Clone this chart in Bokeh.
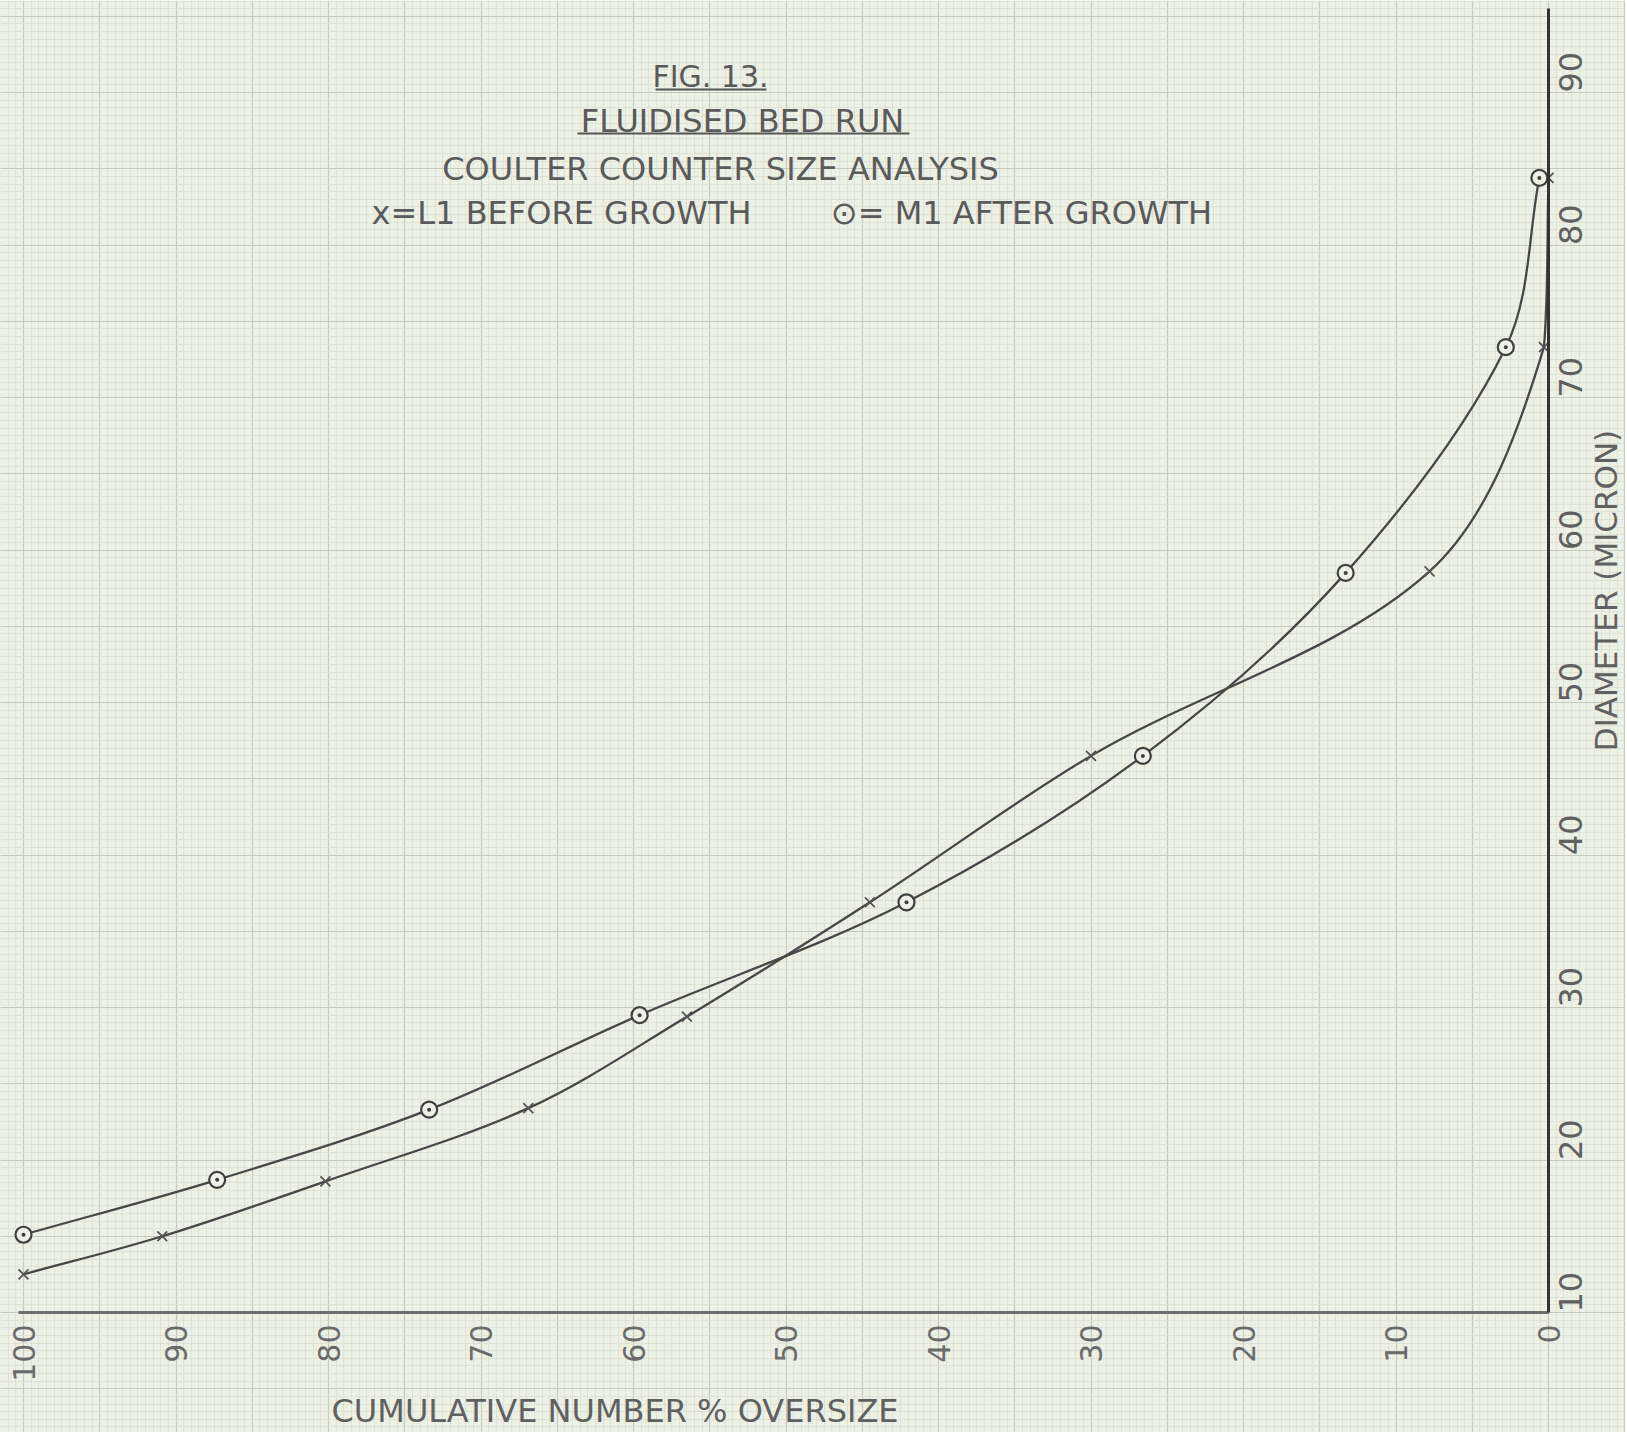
import math
import numpy as np
from bokeh.plotting import figure
from bokeh.models import Range1d, LinearAxis, FixedTicker, Grid, ColumnDataSource
from bokeh.core.properties import value
from bokeh.embed import file_html
from bokeh.resources import INLINE

# ---------------- data ----------------
l1_diameter = [12.5, 15.0, 18.6, 23.4, 29.4, 36.9, 46.5, 58.6, 73.3, 84.4]
l1_oversize = [100.0, 90.9, 80.2, 66.9, 56.5, 44.5, 30.0, 7.8, 0.3, 0.0]
m1_diameter = [15.1, 18.7, 23.3, 29.5, 36.9, 46.5, 58.5, 73.3, 84.4]
m1_oversize = [100.0, 87.3, 73.4, 59.6, 42.1, 26.6, 13.3, 2.8, 0.6]

x_tick_values = [100, 90, 80, 70, 60, 50, 40, 30, 20, 10, 0]
y_tick_values = [10, 20, 30, 40, 50, 60, 70, 80, 90]

title_lines = ["FIG. 13.", "FLUIDISED BED RUN", "COULTER COUNTER SIZE ANALYSIS"]
legend_labels = ["x=L1 BEFORE GROWTH", "\u2299= M1 AFTER GROWTH"]
x_axis_title = "CUMULATIVE NUMBER % OVERSIZE"
y_axis_title = "DIAMETER (MICRON)"

# ---------------- styling ----------------
FONT = "DejaVu Sans"
BG = "#edf0e4"
INK = "#474747"
TEXT = "#5a5a5a"

W, H = 1625, 1432               # the whole sheet is the plotting frame
PX = 15.25                      # pixels per unit on both axes
AX_X, AX_Y = 1548, 1312         # sheet position of x = 0 and y = 10

def dx(px):                     # sheet pixel -> data x
    return (AX_X - px) / PX

def dy(py):                     # sheet pixel -> data y
    return 10 + (AX_Y - py) / PX

p = figure(frame_width=W, frame_height=H,
           x_range=Range1d(dx(0), dx(W)), y_range=Range1d(dy(H), dy(0)),
           x_axis_type=None, y_axis_type=None, title=None,
           output_backend="svg", toolbar_location=None, min_border=0,
           background_fill_color=BG, border_fill_color=BG,
           outline_line_color=None)

# ---- graph paper ----
major_x = [float(v) for v in np.arange(-10, 105, 5)]
minor_x = [float(v) for v in np.arange(-6, 102.5, 0.5)]
major_y = [float(v) for v in np.arange(0, 100, 5)]
minor_y = [float(v) for v in np.arange(0, 100, 0.5)]
for dim, maj, mnr in ((0, major_x, minor_x), (1, major_y, minor_y)):
    g = Grid(dimension=dim, ticker=FixedTicker(ticks=maj, minor_ticks=mnr),
             grid_line_color="#c6cbbd", grid_line_width=1.2,
             minor_grid_line_color="#dadfd2", minor_grid_line_width=0.8)
    p.add_layout(g)

# ---- axes drawn on the sheet (fixed at x = 0 and y = 10) ----
xaxis = LinearAxis(fixed_location=10, bounds=(0, 100.3),
                   ticker=FixedTicker(ticks=x_tick_values),
                   major_label_orientation=math.pi / 2,
                   major_label_standoff=6,
                   major_label_text_font=FONT, major_label_text_font_size="30px",
                   major_label_text_color="#6a6a6a",
                   major_tick_line_color=None, minor_tick_line_color=None,
                   axis_line_color="#6e6e6e", axis_line_width=3)
p.add_layout(xaxis, "below")

yaxis = LinearAxis(fixed_location=0, bounds=(10, dy(8)),
                   ticker=FixedTicker(ticks=y_tick_values),
                   major_label_orientation=math.pi / 2,
                   major_label_standoff=16,
                   major_label_text_font=FONT, major_label_text_font_size="32px",
                   major_label_text_color="#606060",
                   major_tick_line_color=None, minor_tick_line_color=None,
                   axis_line_color="#333333", axis_line_width=3)
p.add_layout(yaxis, "right")

# ---- smooth curves through the points (cubic Bezier segments) ----
def bezier_source(xs, ys):
    P = np.column_stack([xs, ys]).astype(float)
    d = np.linalg.norm(np.diff(P, axis=0), axis=1)
    T = np.zeros_like(P)
    T[0] = (P[1] - P[0]) / d[0]
    T[-1] = (P[-1] - P[-2]) / d[-1]
    for i in range(1, len(P) - 1):
        T[i] = (P[i + 1] - P[i - 1]) / (d[i - 1] + d[i])
    c0 = P[:-1] + T[:-1] * d[:, None] / 3.0
    c1 = P[1:] - T[1:] * d[:, None] / 3.0
    # a cumulative percentage cannot fall below 0: keep the curve left of the axis
    c0[:, 0] = np.maximum(c0[:, 0], 0.0)
    c1[:, 0] = np.maximum(c1[:, 0], 0.0)
    return ColumnDataSource(dict(x0=P[:-1, 0], y0=P[:-1, 1], x1=P[1:, 0], y1=P[1:, 1],
                                 cx0=c0[:, 0], cy0=c0[:, 1], cx1=c1[:, 0], cy1=c1[:, 1]))

for xs, ys in ((l1_oversize, l1_diameter), (m1_oversize, m1_diameter)):
    p.bezier(x0="x0", y0="y0", x1="x1", y1="y1", cx0="cx0", cy0="cy0",
             cx1="cx1", cy1="cy1", source=bezier_source(xs, ys),
             line_color=INK, line_width=2.3)

l1_src = ColumnDataSource(dict(x=l1_oversize, y=l1_diameter))
m1_src = ColumnDataSource(dict(x=m1_oversize, y=m1_diameter))
p.scatter("x", "y", source=l1_src, marker="x", size=14,
          line_color="#555555", line_width=1.8)
p.scatter("x", "y", source=m1_src, marker="circle_dot", size=16,
          line_color="#3f3f3f", line_width=2.2, fill_color=BG)

# ---- titles written on the sheet ----
title_src = ColumnDataSource(dict(
    x=[dx(710), dx(742), dx(720)],
    y=[dy(76), dy(120), dy(168)],
    text=title_lines,
    size=["30px", "32px", "32px"]))
p.text("x", "y", text="text", source=title_src, text_font=value(FONT),
       text_font_size="size", text_color=TEXT,
       text_align="center", text_baseline="middle")

legend_src = ColumnDataSource(dict(
    x=[dx(561), dx(1021)], y=[dy(212), dy(212)], text=legend_labels))
p.text("x", "y", text="text", source=legend_src, text_font=value(FONT),
       text_font_size="32px", text_color=TEXT,
       text_align="center", text_baseline="middle")

# underlines of the first two title lines
p.segment(x0=[dx(655), dx(577)], y0=[dy(89), dy(133)],
          x1=[dx(766), dx(909)], y1=[dy(89), dy(133)],
          line_color="#555555", line_width=2)

# axis titles
p.text(x=[dx(331)], y=[dy(1410)], text=[x_axis_title], text_font=value(FONT),
       text_font_size="32px", text_color="#606060",
       text_align="left", text_baseline="middle")
p.text(x=[dx(1605)], y=[dy(590)], text=[y_axis_title], angle=math.pi / 2,
       text_font=value(FONT), text_font_size="31px", text_color="#606060",
       text_align="center", text_baseline="middle")

open("out.html", "w").write(file_html(p, INLINE))
